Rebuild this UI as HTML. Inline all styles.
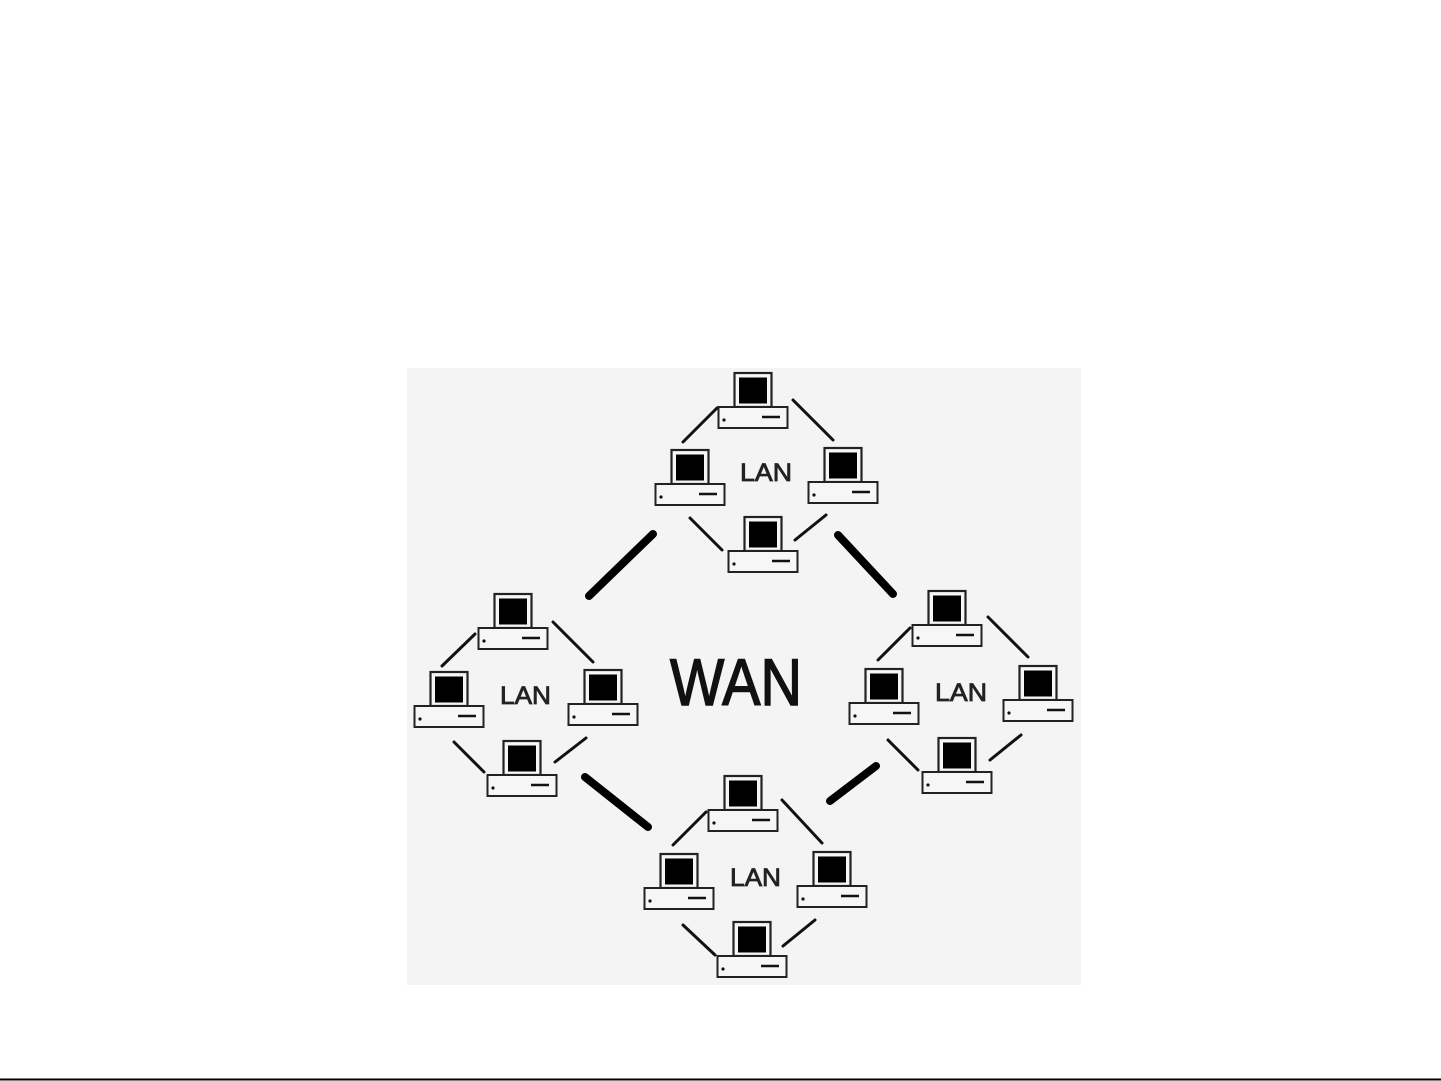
<!DOCTYPE html>
<html><head><style>html,body{margin:0;padding:0;background:#fff;}svg{display:block}</style></head>
<body>
<svg width="1441" height="1081" viewBox="0 0 1441 1081" xmlns="http://www.w3.org/2000/svg">
<defs>
<g id="pc">
<rect x="16.5" y="-34" width="37" height="34" fill="#f6f6f6" stroke="#222" stroke-width="2.2"/>
<rect x="21" y="-29.5" width="28" height="26" fill="#000"/>
<rect x="0.5" y="0" width="69" height="21" fill="#f6f6f6" stroke="#222" stroke-width="2"/>
<circle cx="6" cy="13" r="1.6" fill="#111"/>
<line x1="44" y1="10" x2="62" y2="10" stroke="#111" stroke-width="2.5"/>
</g>
</defs>
<rect x="407" y="368" width="674" height="617" fill="#f4f4f4"/>
<g stroke="#111" stroke-width="3" stroke-linecap="round">
<line x1="683" y1="442" x2="717" y2="408"/><line x1="793" y1="400" x2="833" y2="440"/>
<line x1="690" y1="518" x2="722" y2="550"/><line x1="795" y1="540" x2="826" y2="515"/>
<line x1="442" y1="666" x2="475" y2="634"/><line x1="553" y1="622" x2="593" y2="662"/>
<line x1="454" y1="742" x2="484" y2="772"/><line x1="555" y1="762" x2="586" y2="738"/>
<line x1="878" y1="660" x2="910" y2="628"/><line x1="988" y1="617" x2="1028" y2="657"/>
<line x1="888" y1="740" x2="918" y2="770"/><line x1="990" y1="760" x2="1021" y2="735"/>
<line x1="673" y1="845" x2="706" y2="812"/><line x1="782" y1="800" x2="822" y2="843"/>
<line x1="683" y1="925" x2="715" y2="955"/><line x1="783" y1="946" x2="815" y2="920"/>
</g>
<g stroke="#000" stroke-width="8" stroke-linecap="round">
<line x1="653" y1="534" x2="589" y2="596"/><line x1="838" y1="535" x2="893" y2="594"/>
<line x1="585" y1="777" x2="648" y2="827"/><line x1="876" y1="766" x2="830" y2="801"/>
</g>
<use href="#pc" x="718" y="407"/><use href="#pc" x="655" y="484"/><use href="#pc" x="808" y="482"/><use href="#pc" x="728" y="551"/>
<use href="#pc" x="478" y="628"/><use href="#pc" x="414" y="706"/><use href="#pc" x="568" y="704"/><use href="#pc" x="487" y="775"/>
<use href="#pc" x="912" y="625"/><use href="#pc" x="849" y="703"/><use href="#pc" x="1003" y="700"/><use href="#pc" x="922" y="772"/>
<use href="#pc" x="708" y="810"/><use href="#pc" x="644" y="888"/><use href="#pc" x="797" y="886"/><use href="#pc" x="717" y="956"/>
<g font-family="Liberation Sans, sans-serif" fill="#222" stroke="#222" stroke-width="0.8" font-size="25">
<text x="740" y="481" textLength="52" lengthAdjust="spacingAndGlyphs">LAN</text><text x="500" y="704" textLength="51" lengthAdjust="spacingAndGlyphs">LAN</text>
<text x="935" y="701" textLength="52" lengthAdjust="spacingAndGlyphs">LAN</text><text x="730" y="886" textLength="51" lengthAdjust="spacingAndGlyphs">LAN</text>
</g>
<text x="670" y="705" font-family="Liberation Sans, sans-serif" font-size="66" fill="#111" stroke="#111" stroke-width="1.5" textLength="132" lengthAdjust="spacingAndGlyphs">WAN</text>
<line x1="0" y1="1079.5" x2="1441" y2="1079.5" stroke="#000" stroke-width="2"/>
</svg>
</body></html>
